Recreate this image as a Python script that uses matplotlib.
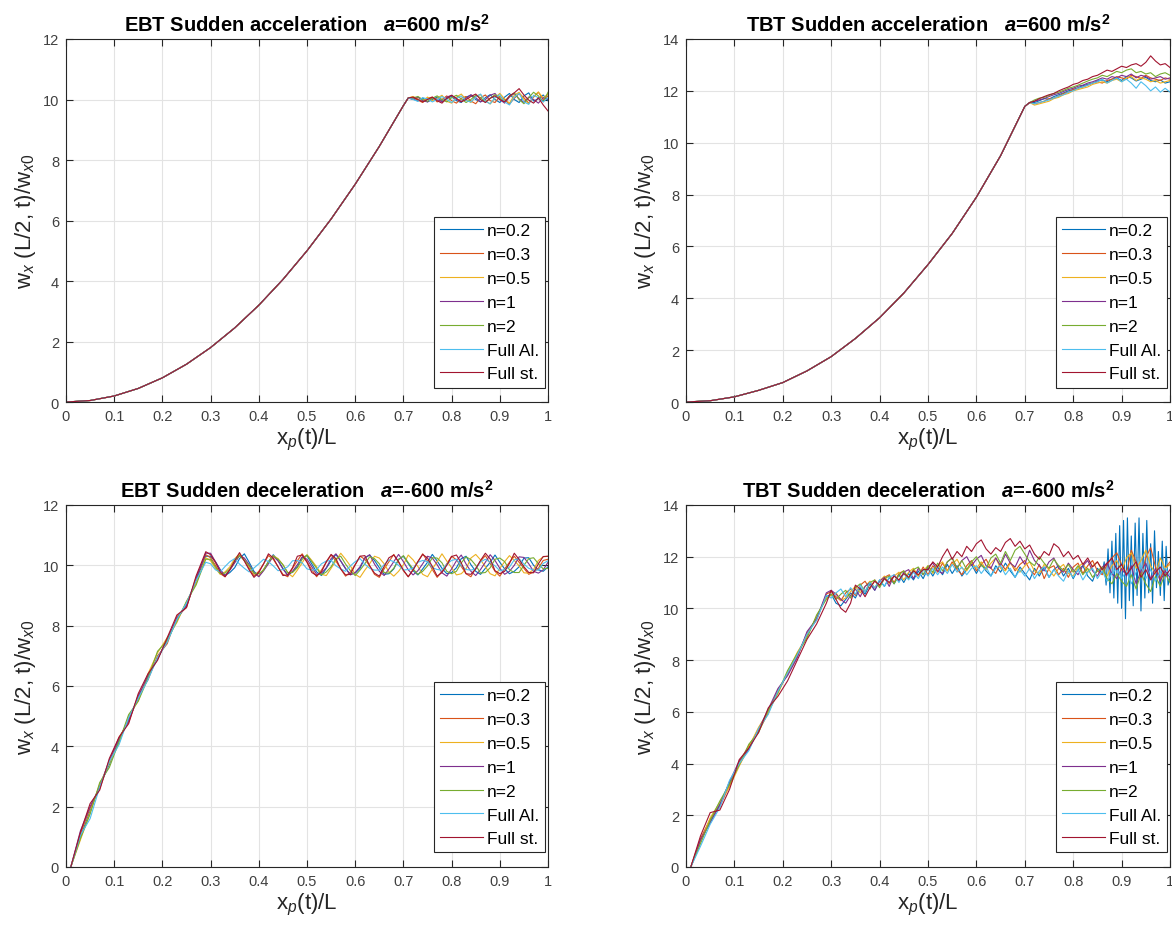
import numpy as np
import matplotlib
matplotlib.use("Agg")
import matplotlib.pyplot as plt

plt.rcParams["font.family"] = ["Liberation Sans", "DejaVu Sans"]
plt.rcParams["mathtext.fontset"] = "custom"
plt.rcParams["mathtext.rm"] = "Liberation Sans"
plt.rcParams["mathtext.it"] = "Liberation Sans:italic"
plt.rcParams["mathtext.bf"] = "Liberation Sans:bold"
plt.rcParams["mathtext.bfit"] = "Liberation Sans:bold:italic"

LABELS = ["n=0.2", "n=0.3", "n=0.5", "n=1", "n=2", "Full Al.", "Full st."]
COLORS = ["#0072BD", "#D95319", "#EDB120", "#7E2F8E", "#77AC30", "#4DBEEE", "#A2142F"]

TITLES = [
    r"EBT Sudden acceleration   $\mathbfit{a}$=600 m/s$^{\mathbf{2}}$",
    r"TBT Sudden acceleration   $\mathbfit{a}$=600 m/s$^{\mathbf{2}}$",
    r"EBT Sudden deceleration   $\mathbfit{a}$=-600 m/s$^{\mathbf{2}}$",
    r"TBT Sudden deceleration   $\mathbfit{a}$=-600 m/s$^{\mathbf{2}}$",
]
YMAX = [12, 14, 12, 14]

# ---- sudden acceleration: smooth common rise, then noisy tail ----
ACC_RISE_X = [0, 0.05, 0.1, 0.15, 0.2, 0.25, 0.3, 0.35, 0.4, 0.45, 0.5, 0.55, 0.6, 0.65, 0.7, 0.71]
EBT_ACC_RISE = [0, 0.05, 0.2, 0.45, 0.8, 1.25, 1.8, 2.45, 3.2, 4.05, 5.0, 6.05, 7.2, 8.45, 9.8, 10.05]
TBT_ACC_RISE = [0, 0.05, 0.2, 0.45, 0.75, 1.2, 1.75, 2.45, 3.25, 4.2, 5.3, 6.5, 7.9, 9.5, 11.4, 11.55]
ACC_TAIL_X = np.round(np.arange(0.72, 1.0001, 0.01), 2)

EBT_ACC_TAIL = [
    [10.02, 9.95, 10.05, 9.92, 10.0, 10.08, 9.94, 10.03, 10.1, 9.96, 9.9, 10.08, 10.14, 10.0, 9.92,
     10.06, 10.16, 10.0, 9.9, 10.08, 10.2, 10.0, 9.9, 10.12, 10.22, 9.95, 10.02, 10.15, 9.96],
    [10.06, 9.98, 9.9, 10.04, 10.08, 9.92, 10.0, 10.12, 9.96, 9.88, 10.04, 10.1, 9.95, 9.86, 10.06,
     10.15, 9.96, 9.9, 10.1, 10.0, 9.85, 10.04, 10.2, 10.06, 9.88, 10.08, 10.24, 10.0, 10.12],
    [10.1, 10.02, 9.94, 10.08, 9.96, 10.04, 10.14, 9.94, 9.88, 10.08, 10.18, 10.0, 9.9, 10.12, 10.16,
     9.96, 9.85, 10.06, 10.2, 10.02, 9.88, 10.14, 10.24, 10.0, 9.86, 10.1, 10.25, 10.05, 10.18],
    [10.0, 10.08, 9.96, 9.92, 10.06, 10.0, 9.92, 10.08, 10.14, 10.0, 9.94, 10.04, 10.16, 10.06, 9.92,
     10.0, 10.14, 10.2, 10.0, 9.88, 10.08, 10.2, 10.02, 9.9, 10.08, 10.0, 9.88, 10.06, 10.0],
    [10.05, 10.1, 10.0, 9.94, 10.04, 10.12, 10.0, 9.92, 10.06, 10.14, 10.02, 9.9, 10.0, 10.14, 10.06,
     9.92, 10.04, 10.16, 10.05, 9.94, 10.1, 10.22, 10.0, 9.86, 10.06, 10.24, 10.12, 9.92, 10.24],
    [10.0, 9.94, 10.06, 10.02, 9.92, 10.0, 10.1, 10.0, 9.9, 10.04, 10.12, 9.96, 9.92, 10.08, 10.18,
     9.94, 9.86, 10.06, 10.16, 9.92, 9.82, 10.08, 10.2, 9.92, 9.84, 10.14, 10.06, 9.92, 10.06],
    [10.08, 10.0, 9.92, 10.0, 10.08, 9.96, 9.88, 10.04, 10.14, 10.04, 9.92, 10.0, 10.1, 10.18, 10.0,
     9.9, 10.04, 10.12, 10.0, 9.92, 10.12, 10.22, 10.36, 10.15, 9.98, 9.88, 10.06, 9.82, 9.62],
]

TBT_ACC_TAIL = [
    [11.55, 11.62, 11.7, 11.68, 11.78, 11.85, 11.92, 12.0, 12.05, 12.12, 12.2, 12.25, 12.3, 12.38, 12.42,
     12.35, 12.45, 12.5, 12.4, 12.55, 12.5, 12.38, 12.45, 12.52, 12.4, 12.35, 12.42, 12.3, 12.35],
    [11.5, 11.55, 11.6, 11.7, 11.72, 11.8, 11.9, 11.95, 12.05, 12.1, 12.15, 12.22, 12.3, 12.35, 12.3,
     12.4, 12.45, 12.55, 12.5, 12.45, 12.6, 12.55, 12.48, 12.6, 12.5, 12.45, 12.4, 12.5, 12.45],
    [11.45, 11.5, 11.55, 11.6, 11.7, 11.75, 11.85, 11.9, 12.0, 12.05, 12.1, 12.15, 12.25, 12.3, 12.35,
     12.3, 12.4, 12.45, 12.35, 12.5, 12.55, 12.4, 12.5, 12.45, 12.35, 12.4, 12.3, 12.35, 12.4],
    [11.6, 11.65, 11.7, 11.78, 11.85, 11.9, 11.98, 12.05, 12.1, 12.18, 12.22, 12.3, 12.35, 12.42, 12.5,
     12.45, 12.55, 12.5, 12.6, 12.55, 12.65, 12.5, 12.6, 12.55, 12.45, 12.5, 12.55, 12.45, 12.5],
    [11.65, 11.72, 11.75, 11.82, 11.9, 11.95, 12.02, 12.1, 12.15, 12.22, 12.3, 12.38, 12.45, 12.5, 12.6,
     12.55, 12.65, 12.75, 12.7, 12.8, 12.85, 12.7, 12.75, 12.65, 12.7, 12.55, 12.65, 12.7, 12.6],
    [11.5, 11.55, 11.6, 11.65, 11.72, 11.8, 11.85, 11.95, 12.0, 12.1, 12.15, 12.22, 12.3, 12.35, 12.45,
     12.3, 12.4, 12.5, 12.35, 12.45, 12.3, 12.1, 12.35, 12.2, 12.0, 12.15, 11.95, 12.1, 11.95],
    [11.6, 11.7, 11.78, 11.85, 11.9, 12.0, 12.08, 12.15, 12.25, 12.3, 12.4, 12.45, 12.55, 12.6, 12.7,
     12.8, 12.75, 12.85, 12.95, 12.9, 13.0, 13.05, 12.95, 13.1, 13.35, 13.15, 13.0, 13.05, 12.9],
]

# ---- sudden deceleration: stepped rise, then oscillating tail ----
DEC_RISE_X = np.round(np.arange(0.01, 0.2901, 0.02), 2)
DEC_TAIL_X = np.round(np.arange(0.30, 1.0001, 0.01), 2)

EBT_DEC_RISE = [
    [0, 1.0, 1.85, 2.7, 3.4, 4.2, 4.9, 5.6, 6.3, 6.9, 7.5, 8.2, 8.7, 9.5, 10.3],
    [0, 1.1, 1.95, 2.6, 3.5, 4.3, 4.8, 5.7, 6.2, 7.0, 7.4, 8.3, 8.6, 9.6, 10.35],
    [0, 0.9, 1.8, 2.75, 3.45, 4.1, 5.0, 5.5, 6.4, 7.1, 7.6, 8.1, 8.8, 9.4, 10.25],
    [0, 1.2, 2.0, 2.65, 3.55, 4.25, 4.85, 5.65, 6.35, 6.9, 7.55, 8.25, 8.65, 9.55, 10.4],
    [0, 0.95, 1.75, 2.8, 3.3, 4.15, 5.05, 5.5, 6.25, 7.15, 7.5, 8.15, 8.8, 9.35, 10.2],
    [0, 1.05, 1.6, 2.65, 3.5, 4.05, 4.95, 5.6, 6.2, 6.95, 7.45, 8.2, 8.75, 9.5, 10.1],
    [0, 1.15, 2.1, 2.55, 3.6, 4.3, 4.75, 5.75, 6.4, 6.85, 7.6, 8.35, 8.6, 9.65, 10.45],
]

EBT_DEC_TAIL = [
    [10.30, 10.12, 9.85, 9.66, 9.76, 9.92, 10.22, 10.38, 10.10, 9.80, 9.64, 9.86, 10.12,
     10.35, 10.16, 9.90, 9.68, 9.78, 9.95, 10.26, 10.32, 10.04, 9.78, 9.66, 9.90, 10.15,
     10.36, 10.14, 9.88, 9.70, 9.74, 9.90, 10.24, 10.34, 10.16, 9.92, 9.70, 9.72, 9.88, 10.20,
     10.30, 10.06, 9.82, 9.68, 9.88, 10.10, 10.36, 10.14, 9.90, 9.72, 9.76, 9.92, 10.22,
     10.30, 10.02, 9.80, 9.70, 9.90, 10.10, 10.34, 10.10, 9.88, 9.72, 9.80, 9.95, 10.24,
     10.25, 10.00, 9.85, 9.80, 9.95],
    [10.25, 10.00, 9.72, 9.62, 9.86, 10.10, 10.35, 10.16, 9.90, 9.65, 9.80, 10.05,
     10.32, 10.20, 9.95, 9.70, 9.62, 9.90, 10.15, 10.38, 10.12, 9.85, 9.62, 9.84, 10.10,
     10.34, 10.14, 9.88, 9.64, 9.78, 10.02, 10.30, 10.20, 9.98, 9.70, 9.60, 9.88, 10.12,
     10.36, 10.10, 9.82, 9.62, 9.86, 10.12, 10.38, 10.14, 9.86, 9.60, 9.80, 10.05,
     10.30, 10.18, 9.96, 9.72, 9.62, 9.90, 10.14, 10.32, 10.06, 9.80, 9.64, 9.88, 10.10,
     10.30, 10.10, 9.90, 9.70, 9.78, 9.90, 10.16, 10.20],
    [10.15, 9.90, 9.70, 9.78, 9.95, 10.22,
     10.38, 10.18, 9.98, 9.72, 9.65, 9.86, 10.10, 10.32, 10.22, 10.02, 9.75, 9.62, 9.84, 10.08,
     10.35, 10.16, 9.95, 9.70, 9.66, 9.90, 10.15, 10.40, 10.20, 9.98, 9.70, 9.60, 9.84, 10.05,
     10.30, 10.24, 10.05, 9.78, 9.64, 9.80, 10.02, 10.34, 10.18, 9.96, 9.70, 9.62, 9.88, 10.12,
     10.38, 10.14, 9.92, 9.68, 9.72, 9.88, 10.24, 10.36, 10.18, 9.95, 9.72, 9.65, 9.90, 10.12,
     10.32, 10.16, 9.98, 9.75, 9.74, 9.86, 10.16, 10.28, 10.30],
    [10.40, 10.12, 9.85, 9.66, 9.84, 10.08, 10.32, 10.24, 10.02, 9.75, 9.62, 9.82, 10.05,
     10.30, 10.14, 9.88, 9.66, 9.80, 10.02, 10.28, 10.20, 9.95, 9.70, 9.74, 9.92,
     10.22, 10.38, 10.14, 9.90, 9.68, 9.76, 9.95, 10.25, 10.35, 10.04, 9.80, 9.66, 9.88,
     10.12, 10.36, 10.12, 9.85, 9.68, 9.82, 10.05, 10.30, 10.24, 10.02, 9.75, 9.64, 9.88,
     10.15, 10.34, 10.04, 9.80, 9.66, 9.86, 10.10, 10.35, 10.16, 9.90, 9.70, 9.80,
     10.00, 10.28, 10.26, 10.05, 9.80, 9.74, 9.85, 10.10],
    [10.20, 9.95, 9.72, 9.74, 9.88, 10.15, 10.32, 10.16, 9.98, 9.74, 9.72, 9.84, 10.12, 10.30,
     10.20, 10.02, 9.76, 9.76, 9.92, 10.20, 10.34, 10.12, 9.90, 9.68, 9.78, 9.95, 10.22,
     10.30, 10.04, 9.82, 9.66, 9.84, 10.05, 10.28, 10.22, 10.05, 9.76, 9.74, 9.90, 10.18,
     10.32, 10.09, 9.88, 9.70, 9.80, 9.98, 10.25, 10.24, 10.08, 9.80, 9.72, 9.80, 10.08, 10.28,
     10.19, 10.00, 9.74, 9.76, 9.92, 10.20, 10.24, 10.12, 9.85, 9.76, 9.76, 10.00, 10.22,
     10.25, 10.05, 9.88, 9.90],
    [10.05, 9.85, 9.78, 9.96, 10.12, 10.22, 10.04, 9.90, 9.78, 9.91, 10.05, 10.20, 10.12, 9.98,
     9.82, 9.86, 9.95, 10.15, 10.16, 10.08, 9.88, 9.84, 9.86, 10.05, 10.14, 10.16, 9.98, 9.88,
     9.80, 9.98, 10.12, 10.22, 10.04, 9.90, 9.84, 9.84, 10.02, 10.18, 10.12, 10.00, 9.84, 9.86,
     9.90, 10.10, 10.16, 10.12, 9.92, 9.86, 9.84, 10.04, 10.16, 10.20, 9.99, 9.86, 9.84, 9.88,
     10.11, 10.20, 10.10, 9.98, 9.82, 9.86, 9.94, 10.18, 10.22, 10.04, 9.90, 9.84, 9.84, 10.06,
     10.15],
    [10.35, 10.10, 9.78, 9.62, 9.86, 10.15, 10.42, 10.14, 9.85, 9.60, 9.76, 10.05,
     10.38, 10.24, 9.95, 9.66, 9.68, 9.92, 10.30, 10.34, 10.10, 9.76, 9.66, 9.78,
     10.12, 10.36, 10.22, 9.88, 9.68, 9.70, 10.02, 10.30, 10.32, 9.98, 9.74, 9.64,
     9.96, 10.25, 10.34, 10.12, 9.84, 9.62, 9.84, 10.12, 10.36, 10.24, 9.96, 9.64,
     9.76, 10.00, 10.29, 10.34, 10.08, 9.72, 9.70, 9.88, 10.16, 10.40, 10.21, 9.82,
     9.72, 9.80, 10.06, 10.40, 10.19, 9.95, 9.76, 9.75, 10.05, 10.29, 10.30],
]

TBT_DEC_RISE = [
    [0, 1.0, 1.75, 2.45, 3.25, 3.95, 4.6, 5.35, 6.05, 6.75, 7.5, 8.25, 8.95, 9.65, 10.45],
    [0, 1.1, 1.85, 2.35, 3.15, 4.05, 4.7, 5.25, 5.95, 6.85, 7.45, 8.15, 9.05, 9.55, 10.55],
    [0, 0.95, 1.9, 2.5, 3.1, 3.9, 4.65, 5.4, 6.0, 6.7, 7.55, 8.3, 8.9, 9.7, 10.4],
    [0, 1.05, 1.7, 2.4, 3.3, 4.1, 4.55, 5.3, 6.1, 6.9, 7.4, 8.1, 9.1, 9.6, 10.6],
    [0, 0.9, 1.8, 2.55, 3.2, 3.95, 4.75, 5.2, 6.05, 6.75, 7.6, 8.25, 8.85, 9.75, 10.35],
    [0, 0.8, 1.65, 2.3, 3.35, 4.0, 4.5, 5.35, 5.9, 6.8, 7.5, 8.2, 9.0, 9.55, 10.5],
    [0, 1.2, 2.1, 2.2, 3.0, 4.15, 4.6, 5.2, 6.15, 6.6, 7.2, 8.0, 8.8, 9.4, 10.2],
]

# n=0.2 stops at x=0.86 on the regular grid and continues on a finer grid
TBT_DEC_TAIL = [
    [10.55, 10.2, 10.1, 10.35, 10.6, 10.4, 10.8, 10.55, 10.95, 10.7,
     11.1, 10.85, 11.2, 10.95, 11.3, 11.0, 11.35, 11.1, 11.45, 11.15,
     11.55, 11.25, 11.6, 11.3, 11.7, 11.35, 11.65, 11.25, 11.5, 11.7,
     11.35, 11.7, 11.45, 11.25, 11.65, 11.4, 11.75, 11.45, 11.2, 11.6,
     11.35, 11.1, 11.55, 11.25, 11.6, 11.2, 11.5, 11.65, 11.25, 11.55,
     11.15, 11.5, 11.65, 11.25, 11.05, 11.55, 11.35],
    [10.65, 10.45, 10.3, 10.6, 10.75, 10.5, 10.9, 11.05, 10.75, 11.1,
     10.85, 11.2, 11.3, 11.0, 11.35, 11.45, 11.15, 11.5, 11.25, 11.6,
     11.3, 11.65, 11.4, 11.75, 11.45, 11.8, 11.5, 11.3, 11.65, 11.85,
     11.45, 11.7, 11.9, 11.55, 11.35, 11.75, 11.5, 11.8, 11.45, 11.7,
     11.85, 11.5, 11.3, 11.7, 11.15, 11.55, 11.65, 11.3, 11.55, 11.2,
     11.6, 11.75, 11.35, 11.65, 11.85, 11.45, 11.3, 11.7, 11.95, 12.15,
     11.7, 11.35, 12.25, 11.8, 11.25, 11.95, 12.35, 11.6, 11.15, 11.55, 11.8],
    [10.5, 10.6, 10.3, 10.4, 10.65, 10.85, 10.6, 10.85, 11.05, 10.8,
     11.05, 11.25, 10.95, 11.25, 11.4, 11.1, 11.4, 11.55, 11.25, 11.45,
     11.65, 11.35, 11.65, 11.8, 11.45, 11.7, 11.9, 11.55, 11.45, 11.75,
     11.55, 11.8, 11.5, 11.75, 11.95, 11.55, 11.45, 11.75, 11.55, 11.4,
     11.65, 11.8, 11.45, 11.35, 11.7, 11.5, 11.25, 11.55, 11.7, 11.35,
     11.25, 11.6, 11.75, 11.4, 11.65, 11.8, 11.45, 11.25, 11.65, 11.85,
     11.45, 11.95, 12.15, 11.55, 11.85, 12.25, 11.65, 11.35, 11.95, 11.55, 11.7],
    [10.7, 10.55, 10.35, 10.2, 10.5, 10.75, 10.45, 10.85, 11.0, 10.7,
     11.05, 11.2, 10.85, 11.3, 11.05, 11.4, 11.5, 11.15, 11.55, 11.3,
     11.6, 11.75, 11.45, 11.35, 11.8, 11.95, 11.55, 11.85, 12.0, 11.65,
     11.9, 12.05, 11.65, 11.55, 11.95, 11.65, 12.1, 11.75, 11.6, 12.0,
     11.7, 12.25, 11.85, 11.65, 11.45, 11.8, 11.95, 11.55, 11.4, 11.75,
     11.5, 11.3, 11.65, 11.85, 11.45, 11.25, 11.6, 11.75, 11.35, 11.15,
     11.55, 11.25, 11.65, 10.95, 11.45, 11.75, 11.15, 11.55, 11.05, 11.45, 11.2],
    [10.55, 10.35, 10.55, 10.7, 10.4, 10.8, 10.95, 10.65, 11.0, 11.1,
     10.8, 11.15, 11.25, 10.95, 11.3, 11.45, 11.15, 11.5, 11.6, 11.3,
     11.65, 11.4, 11.75, 11.45, 11.8, 11.95, 11.55, 11.85, 11.5, 11.8,
     12.0, 11.65, 11.55, 11.95, 12.1, 11.75, 12.2, 11.85, 12.25, 12.4,
     12.1, 11.8, 11.65, 12.0, 11.75, 11.55, 11.9, 11.65, 11.45, 11.7,
     11.4, 11.65, 11.3, 11.55, 11.2, 11.45, 11.6, 11.15, 10.95, 11.35,
     11.05, 10.85, 11.3, 10.75, 11.35, 10.95, 10.65, 11.25, 10.85, 11.35, 11.0],
    [10.4, 10.6, 10.75, 10.45, 10.8, 10.55, 10.9, 10.65, 11.0, 10.8,
     11.1, 10.85, 11.2, 11.3, 11.0, 11.35, 11.1, 11.4, 11.15, 11.5,
     11.25, 11.55, 11.3, 11.6, 11.35, 11.7, 11.4, 11.6, 11.3, 11.55,
     11.65, 11.35, 11.6, 11.25, 11.55, 11.65, 11.3, 11.55, 11.2, 11.5,
     11.25, 11.55, 11.15, 11.45, 11.6, 11.2, 11.5, 11.25, 11.05, 11.45,
     11.2, 11.5, 11.1, 11.4, 11.55, 11.15, 11.45, 11.05, 11.35, 11.55,
     11.15, 11.45, 10.95, 11.4, 11.65, 11.15, 11.5, 11.05, 11.4, 11.55, 11.3],
    [10.7, 10.35, 10.0, 9.85, 10.2, 10.9, 10.75, 10.45, 10.8, 11.05,
     10.9, 11.15, 11.0, 11.25, 11.1, 11.35, 11.2, 11.45, 11.3, 11.5,
     11.5, 11.8, 11.6, 12.0, 12.3, 11.9, 12.2, 12.0, 12.4, 12.2,
     12.5, 12.65, 12.3, 12.1, 12.35, 12.2, 12.55, 12.7, 12.4, 12.6,
     12.3, 12.45, 12.1, 11.9, 12.2, 12.05, 12.5, 12.35, 12.0, 12.2,
     11.9, 12.05, 11.7, 11.95, 11.6, 11.8, 11.5, 11.75, 11.95, 11.5,
     11.7, 11.3, 11.55, 11.8, 11.2, 11.5, 11.1, 11.4, 11.6, 11.25, 11.5],
]
TBT_DEC_BLUE_X = np.round(np.linspace(0.864, 1.0, 35), 3)
TBT_DEC_BLUE_END = [11.8, 10.9, 12.3, 10.6, 12.6, 10.4, 12.9, 10.2, 13.2, 10.0,
                    13.4, 9.6, 13.5, 10.3, 12.8, 10.1, 13.3, 10.5, 13.5, 9.9,
                    12.9, 10.4, 13.4, 10.6, 12.5, 10.2, 13.0, 10.8, 12.2, 10.5,
                    12.6, 10.3, 12.4, 10.9, 11.2]


def panel_series(k):
    out = []
    for i in range(7):
        if k == 0:
            x = np.concatenate([ACC_RISE_X, ACC_TAIL_X])
            y = np.concatenate([EBT_ACC_RISE, EBT_ACC_TAIL[i]])
        elif k == 1:
            x = np.concatenate([ACC_RISE_X, ACC_TAIL_X])
            y = np.concatenate([TBT_ACC_RISE, TBT_ACC_TAIL[i]])
        elif k == 2:
            x = np.concatenate([DEC_RISE_X, DEC_TAIL_X])
            y = np.concatenate([EBT_DEC_RISE[i], EBT_DEC_TAIL[i]])
        else:
            tail = TBT_DEC_TAIL[i]
            if i == 0:
                x = np.concatenate([DEC_RISE_X, DEC_TAIL_X[:len(tail)], TBT_DEC_BLUE_X])
                y = np.concatenate([TBT_DEC_RISE[i], tail, TBT_DEC_BLUE_END])
            else:
                x = np.concatenate([DEC_RISE_X, DEC_TAIL_X])
                y = np.concatenate([TBT_DEC_RISE[i], tail])
        out.append((x, y))
    return out


AX_POS = [
    [0.0563, 0.5657, 0.4113, 0.3912],
    [0.5853, 0.5657, 0.4130, 0.3912],
    [0.0563, 0.0647, 0.4113, 0.3901],
    [0.5853, 0.0647, 0.4130, 0.3901],
]
AXC = "#262626"

fig = plt.figure(figsize=(11.72, 9.28), dpi=100)
for k in range(4):
    ax = fig.add_axes(AX_POS[k])
    for (x, y), c, lab in zip(panel_series(k), COLORS, LABELS):
        ax.plot(x, y, color=c, lw=0.8, label=lab)
    ax.set_xlim(0, 1)
    ax.set_ylim(0, YMAX[k])
    ax.set_xticks(np.round(np.arange(0, 1.01, 0.1), 1))
    ax.set_xticklabels(["0"] + [f"{v:.1f}" for v in np.arange(0.1, 0.95, 0.1)] + ["1"])
    ax.set_yticks(np.arange(0, YMAX[k] + 1, 2))
    ax.grid(True, color="#e3e3e3", lw=0.8)
    ax.set_axisbelow(True)
    ax.tick_params(direction="in", length=5, width=0.8, top=True, right=True,
                   labelsize=10.5, colors=AXC, labelcolor="#404040", pad=5)
    for s in ax.spines.values():
        s.set_color(AXC)
        s.set_linewidth(0.8)
    ax.set_title(TITLES[k], fontsize=14.5, fontweight="bold", pad=6, color="black")
    ax.set_xlabel(r"x$_p$(t)/L", fontsize=16, color="#262626", labelpad=2)
    ax.set_ylabel(r"w$_x$ (L/2, t)/w$_{x0}$", fontsize=16, color="#262626", labelpad=3)
    leg = ax.legend(loc="lower right", bbox_to_anchor=(0.994, 0.04), fontsize=12.5,
                    handlelength=2.5, handletextpad=0.2, borderpad=0.35, labelspacing=0.5,
                    borderaxespad=0.0, fancybox=False, framealpha=1)
    leg.get_frame().set_edgecolor(AXC)
    leg.get_frame().set_linewidth(0.8)

fig.savefig("out.png")
